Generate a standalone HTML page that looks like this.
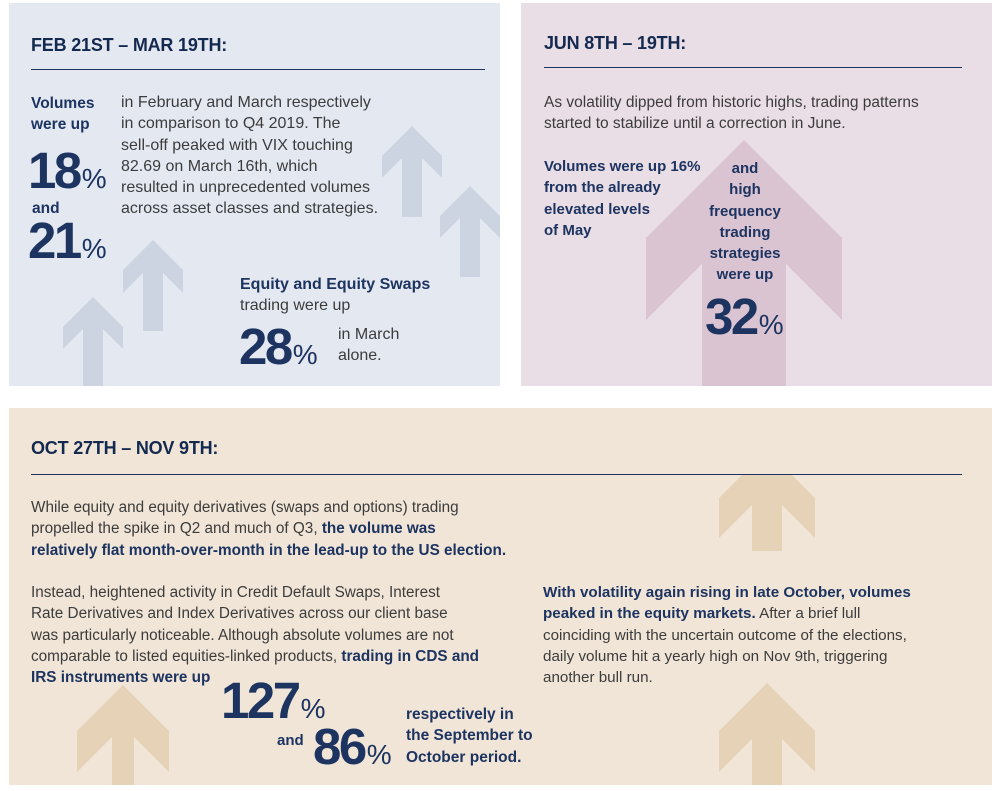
<!DOCTYPE html>
<html><head><meta charset="utf-8">
<style>
body{margin:0;width:998px;height:791px;background:#fff;position:relative;overflow:hidden;font-family:"Liberation Sans",sans-serif;}
.t{position:absolute;white-space:nowrap;font-size:15px;line-height:21.3px;color:#3c3c3c;}
.b{font-weight:bold;color:#1d3461;}
.h{position:absolute;font-size:18px;font-weight:bold;color:#14294f;white-space:nowrap;letter-spacing:-0.2px;}
.rule{position:absolute;height:1px;background:#1d3461;}
.big{position:absolute;font-weight:bold;color:#1d3461;font-size:51px;line-height:51px;letter-spacing:-2.5px;white-space:nowrap;}
.big span{font-weight:normal;font-size:28px;letter-spacing:0;margin-left:2px;}
svg{position:absolute;left:0;top:0;}
</style></head><body>
<svg id="bg" width="998" height="791">
<defs>
<clipPath id="c1"><rect x="9" y="3" width="491" height="383"/></clipPath>
<clipPath id="c2"><rect x="521" y="3" width="471" height="383"/></clipPath>
<clipPath id="c3"><rect x="9" y="408" width="983" height="377"/></clipPath>
<clipPath id="c3b"><rect x="9" y="474" width="983" height="311"/></clipPath>
</defs>
<rect x="9" y="3" width="491" height="383" fill="#e4e8f1"/>
<rect x="521" y="3" width="471" height="383" fill="#e9dde6"/>
<rect x="9" y="408" width="983" height="377" fill="#f0e5d7"/>
<g id="arrows"></g>
</svg>
<script>
const arrows=[
 [153,240,30,23,10,331,'#cdd4e1','c1'],
 [412,126,30,22,10,217,'#cdd4e1','c1'],
 [470,186,30,22,10,277,'#cdd4e1','c1'],
 [93,297,30,22,10,386,'#cdd4e1','c1'],
 [744,140,98,82,42,386,'#dac4d2','c2'],
 [767,450,48,40,15,551,'#e6d3b7','c3b'],
 [767,683,48,41,15,785,'#e6d3b7','c3'],
 [123,685,46,41,11,785,'#e6d3b7','c3']
];
const g=document.getElementById('arrows');
arrows.forEach(function(a){
 const x=a[0],t=a[1],w=a[2],v=a[3],s=a[4],b=a[5];
 const j=t+w+v-(w-s);
 const p=document.createElementNS('http://www.w3.org/2000/svg','polygon');
 p.setAttribute('points',[[x,t],[x+w,t+w],[x+w,t+w+v],[x+s,j],[x+s,b],[x-s,b],[x-s,j],[x-w,t+w+v],[x-w,t+w]].map(function(q){return q.join(',')}).join(' '));
 p.setAttribute('fill',a[6]);
 p.setAttribute('clip-path','url(#'+a[7]+')');
 
 
 g.appendChild(p);
});
</script>

<!-- Panel 1 -->
<div class="h" style="left:31px;top:35px">FEB 21ST – MAR 19TH:</div>
<div class="rule" style="left:31px;top:69px;width:454px"></div>
<div class="t b" style="left:31px;top:93px;font-size:15.5px">Volumes<br>were up</div>
<div class="big" style="left:28px;top:145px">18<span>%</span></div>
<div class="t b" style="left:32px;top:198px;font-size:15.5px">and</div>
<div class="big" style="left:28px;top:215px">21<span>%</span></div>
<div class="t" style="left:121px;top:92px;font-size:16px">in February and March respectively<br>in comparison to Q4 2019. The<br>sell-off peaked with VIX touching<br>82.69 on March 16th, which<br>resulted in unprecedented volumes<br>across asset classes and strategies.</div>
<div class="t" style="left:240px;top:274px;font-size:16px"><span class="b">Equity and Equity Swaps</span><br>trading were up</div>
<div class="big" style="left:239px;top:321px">28<span>%</span></div>
<div class="t" style="left:338px;top:324px;font-size:16px">in March<br>alone.</div>

<!-- Panel 2 -->
<div class="h" style="left:544px;top:33px">JUN 8TH – 19TH:</div>
<div class="rule" style="left:544px;top:67px;width:418px"></div>
<div class="t" style="left:544px;top:92px;font-size:15.5px">As volatility dipped from historic highs, trading patterns<br>started to stabilize until a correction in June.</div>
<div class="t b" style="left:544px;top:156px">Volumes were up 16%<br>from the already<br>elevated levels<br>of May</div>
<div class="t b" style="left:695px;width:100px;text-align:center;top:158px">and<br>high<br>frequency<br>trading<br>strategies<br>were up</div>
<div class="big" style="left:705px;top:291px">32<span>%</span></div>

<!-- Panel 3 -->
<div class="h" style="left:31px;top:438px">OCT 27TH – NOV 9TH:</div>
<div class="rule" style="left:31px;top:474px;width:931px"></div>
<div class="t" style="left:31px;top:497px;font-size:15.3px">While equity and equity derivatives (swaps and options) trading<br>propelled the spike in Q2 and much of Q3, <span class="b">the volume was</span><br><span class="b">relatively flat month-over-month in the lead-up to the US election.</span></div>
<div class="t" style="left:31px;top:582px;font-size:15.3px">Instead, heightened activity in Credit Default Swaps, Interest<br>Rate Derivatives and Index Derivatives across our client base<br>was particularly noticeable. Although absolute volumes are not<br>comparable to listed equities-linked products, <span class="b">trading in CDS and</span><br><span class="b">IRS instruments were up</span></div>
<div class="big" style="left:221px;top:675px">127<span>%</span></div>
<div class="t b" style="left:277px;top:730px">and</div>
<div class="big" style="left:313px;top:721px">86<span>%</span></div>
<div class="t b" style="left:406px;top:704px;font-size:15.5px">respectively in<br>the September to<br>October period.</div>
<div class="t" style="left:543px;top:582px;font-size:15.2px"><span class="b">With volatility again rising in late October, volumes</span><br><span class="b">peaked in the equity markets.</span> After a brief lull<br>coinciding with the uncertain outcome of the elections,<br>daily volume hit a yearly high on Nov 9th, triggering<br>another bull run.</div>
</body></html>
